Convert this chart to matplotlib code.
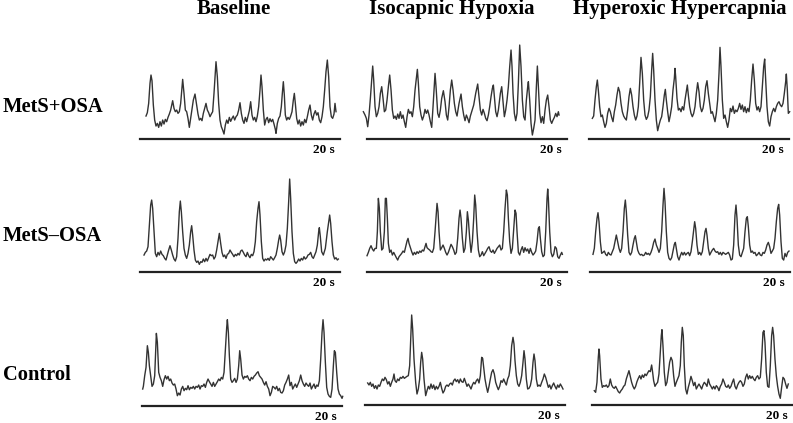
import numpy as np
import matplotlib
matplotlib.use("Agg")
import matplotlib.pyplot as plt

# Registros digitalizados: (muestra, amplitud en u.a.), fs = 30 muestras/s
fs = 30

# MetS+OSA
osa_pos_baseline = [(18,68),(22,78),(26,106),(30,166),(33,191),(36,174),(40,101),(44,56),(48,38),(52,46),(56,34),(60,51),(64,38),(68,56),(72,44),(76,58),(80,51),(84,64),(88,74),(92,86),(98,114),(102,91),(106,81),(110,86),(114,76),(118,81),(122,106),(128,178),(132,136),(136,86),(140,81),(144,61),(148,34),(152,61),(156,86),(160,116),(165,134),(170,101),(174,74),(178,56),(182,61),(186,54),(190,76),(194,91),(198,106),(202,86),(206,78),(210,66),(214,74),(218,81),(222,136),(228,231),(232,186),(236,106),(240,56),(244,36),(248,26),(252,14),(256,41),(260,56),(264,46),(268,64),(272,52),(276,61),(280,68),(284,56),(288,66),(292,71),(296,86),(300,108),(304,76),(308,56),(312,46),(316,64),(320,51),(324,68),(328,84),(332,111),(336,71),(340,56),(344,64),(348,51),(352,68),(356,96),(360,146),(363,191),(366,156),(370,86),(374,41),(378,58),(382,64),(386,48),(390,60),(394,51),(398,58),(402,44),(406,28),(408,16),(412,46),(416,61),(420,68),(424,96),(427,136),(430,171),(433,131),(436,71),(440,56),(444,64),(448,58),(452,68),(456,81),(460,116),(463,136),(466,106),(470,61),(474,44),(478,56),(482,38),(486,51),(490,41),(494,58),(498,48),(502,66),(506,86),(510,101),(514,71),(518,56),(522,74),(526,84),(530,71),(534,78),(538,56),(542,48),(546,66),(550,96),(554,146),(558,201),(562,236),(566,186),(570,96),(574,66),(578,61),(582,74),(585,106),(588,81)]

osa_pos_hypoxia = [(-10,81),(-5,71),(-1,61),(3,36),(7,71),(11,121),(15,176),(18,218),(21,176),(25,96),(29,66),(33,76),(37,96),(41,136),(45,156),(49,121),(53,81),(57,86),(61,116),(65,156),(69,191),(73,146),(77,86),(81,61),(85,68),(89,58),(93,74),(97,61),(101,81),(105,61),(109,71),(113,51),(117,34),(121,66),(125,88),(129,76),(133,81),(137,66),(141,96),(145,146),(149,181),(152,208),(155,166),(159,96),(163,71),(167,56),(171,68),(175,88),(179,76),(183,86),(187,71),(191,51),(195,34),(199,96),(203,166),(205,196),(208,156),(213,76),(217,64),(221,86),(225,121),(230,144),(235,111),(239,71),(243,56),(247,96),(251,146),(255,176),(259,146),(263,106),(267,81),(271,68),(277,106),(283,134),(287,96),(291,71),(295,54),(299,71),(303,61),(307,48),(311,68),(315,81),(321,101),(327,136),(333,164),(337,126),(341,86),(345,71),(349,88),(353,76),(357,61),(361,54),(365,71),(369,96),(373,126),(377,151),(380,161),(383,126),(387,81),(391,66),(395,86),(401,136),(405,156),(409,111),(413,66),(417,86),(421,116),(425,156),(429,216),(433,266),(436,216),(439,136),(443,76),(447,54),(451,76),(455,166),(459,281),(463,216),(467,116),(471,66),(475,56),(479,116),(483,156),(485,171),(489,116),(493,46),(497,11),(501,31),(505,56),(509,156),(512,218),(515,156),(519,76),(523,48),(527,66),(531,46),(535,86),(539,116),(543,131),(547,96),(551,56),(555,46),(559,56),(563,64),(567,76),(571,66),(575,81),(577,71)]

osa_pos_hypercapnia = [(10,61),(14,68),(18,116),(22,156),(25,176),(28,146),(32,96),(36,66),(40,71),(44,51),(48,34),(52,46),(56,76),(60,91),(64,81),(68,64),(72,51),(76,81),(80,101),(84,131),(88,154),(92,141),(96,106),(100,81),(104,68),(108,61),(112,56),(116,86),(120,126),(124,151),(128,131),(132,96),(136,71),(140,56),(144,68),(148,96),(152,166),(156,244),(160,196),(164,116),(168,71),(172,58),(176,66),(180,86),(184,126),(188,206),(191,256),(194,206),(198,116),(202,56),(206,24),(210,41),(214,56),(218,66),(222,96),(226,131),(229,148),(232,116),(236,81),(240,51),(244,71),(248,96),(252,146),(256,181),(258,211),(260,186),(264,121),(268,86),(272,91),(276,81),(280,96),(284,86),(288,116),(292,141),(295,161),(298,131),(302,96),(306,76),(310,66),(314,76),(318,96),(322,136),(326,168),(330,141),(334,96),(338,81),(342,91),(346,116),(350,156),(354,174),(358,136),(362,106),(366,76),(370,81),(374,66),(378,51),(382,76),(386,116),(390,196),(393,274),(396,216),(400,116),(404,61),(408,71),(412,51),(416,34),(420,56),(424,91),(428,81),(432,98),(436,76),(440,86),(444,81),(448,91),(452,106),(456,88),(460,101),(464,81),(468,96),(472,78),(476,91),(480,81),(484,116),(488,176),(492,224),(496,176),(500,106),(504,86),(508,96),(512,81),(516,96),(520,156),(524,216),(527,239),(530,176),(534,96),(538,51),(542,38),(546,66),(550,81),(554,91),(558,81),(562,96),(566,106),(570,111),(574,101),(578,96),(582,106),(586,136),(590,171),(592,194),(595,146),(598,76),(602,81)]

# MetS-OSA
osa_neg_baseline = [(12,50),(16,58),(20,62),(24,75),(28,140),(32,200),(35,215),(38,190),(42,120),(46,55),(50,45),(54,58),(58,50),(62,62),(66,52),(70,48),(74,40),(78,35),(82,50),(86,65),(90,78),(94,65),(98,50),(102,38),(106,32),(110,45),(114,100),(118,180),(121,212),(124,180),(128,120),(132,70),(136,50),(140,40),(144,55),(148,80),(152,120),(155,138),(158,110),(162,65),(166,35),(170,28),(174,32),(178,22),(182,30),(186,28),(190,38),(194,30),(198,40),(202,32),(206,42),(210,52),(214,48),(218,50),(222,38),(226,45),(230,65),(234,90),(238,115),(242,85),(246,58),(250,45),(254,50),(258,40),(262,52),(266,55),(270,65),(274,58),(278,52),(282,45),(286,52),(290,48),(294,55),(298,50),(302,62),(306,65),(310,58),(314,50),(318,45),(322,58),(326,48),(330,42),(334,52),(338,48),(342,60),(346,90),(350,150),(354,190),(357,210),(360,170),(364,90),(368,40),(372,32),(376,38),(380,35),(384,40),(388,34),(392,45),(396,40),(400,35),(404,42),(408,50),(412,70),(416,95),(419,110),(422,95),(426,60),(430,50),(434,60),(438,80),(442,130),(446,210),(449,278),(452,220),(456,120),(460,55),(464,30),(468,25),(472,30),(476,38),(480,32),(484,40),(488,35),(492,45),(496,38),(500,42),(504,50),(508,52),(512,58),(516,45),(520,40),(524,50),(528,60),(532,80),(536,120),(538,132),(541,105),(545,60),(550,50),(556,70),(562,120),(566,150),(569,170),(572,145),(576,90),(580,50),(584,38),(588,42),(592,35),(595,38)]

osa_neg_hypoxia = [(1,48),(5,58),(9,70),(13,78),(17,68),(21,62),(25,70),(29,70),(32,120),(35,220),(38,190),(41,120),(45,65),(49,70),(53,120),(56,220),(59,220),(62,160),(65,85),(69,58),(73,65),(77,50),(81,58),(85,50),(89,42),(93,35),(97,45),(101,50),(105,55),(109,62),(113,58),(117,75),(121,92),(124,100),(127,85),(131,72),(135,60),(139,50),(143,58),(147,52),(151,60),(155,55),(159,62),(163,58),(167,65),(171,62),(175,75),(178,85),(181,72),(185,68),(189,65),(193,60),(197,58),(201,70),(205,120),(209,180),(211,205),(214,180),(217,120),(221,65),(225,72),(229,80),(233,70),(237,58),(241,50),(245,58),(249,70),(253,82),(257,75),(261,65),(265,52),(269,58),(273,100),(277,160),(280,185),(283,160),(287,100),(291,58),(295,70),(299,120),(302,180),(305,155),(309,100),(313,58),(317,90),(321,160),(324,230),(327,200),(331,120),(335,65),(339,45),(343,50),(347,60),(351,48),(355,55),(359,62),(363,70),(367,75),(371,62),(375,58),(379,65),(383,55),(387,62),(391,70),(395,75),(399,80),(403,65),(407,70),(411,120),(415,190),(419,245),(422,230),(425,160),(429,90),(433,55),(437,70),(441,130),(445,185),(448,175),(451,120),(455,58),(459,50),(463,65),(467,75),(471,58),(475,72),(479,62),(483,68),(487,55),(491,70),(495,58),(499,50),(503,55),(507,62),(511,90),(515,130),(518,135),(521,100),(525,60),(529,45),(533,50),(537,120),(541,220),(543,248),(545,220),(549,120),(553,58),(557,45),(561,52),(565,75),(569,70),(573,45),(577,40),(581,50),(585,58),(587,52)]

osa_neg_hypercapnia = [(9,52),(13,70),(17,120),(21,160),(24,177),(27,150),(31,90),(35,55),(39,58),(43,62),(47,52),(51,48),(55,58),(59,52),(63,50),(67,60),(71,70),(75,90),(79,110),(83,90),(87,70),(91,58),(95,70),(99,120),(103,190),(106,215),(109,180),(113,110),(117,58),(121,50),(125,58),(129,80),(133,100),(136,108),(139,90),(143,65),(147,55),(151,50),(155,52),(159,48),(163,50),(167,58),(171,52),(175,55),(179,50),(183,58),(187,70),(191,88),(195,98),(199,80),(203,70),(207,58),(211,70),(215,120),(219,200),(222,250),(225,210),(229,120),(233,58),(237,40),(241,35),(245,42),(249,62),(253,82),(256,88),(259,70),(263,45),(267,35),(271,48),(275,58),(279,50),(283,58),(287,50),(291,55),(295,58),(299,48),(303,60),(307,90),(311,125),(314,150),(317,130),(321,80),(325,52),(329,58),(333,50),(337,60),(341,90),(345,120),(348,130),(351,110),(355,70),(359,50),(363,58),(367,65),(371,70),(375,62),(379,58),(383,60),(387,52),(391,58),(395,50),(399,58),(403,55),(407,52),(411,55),(415,58),(419,50),(423,35),(427,38),(431,80),(435,170),(438,200),(441,160),(445,80),(449,50),(453,45),(457,58),(461,70),(465,120),(469,160),(472,165),(475,135),(479,80),(483,58),(487,62),(491,55),(495,58),(499,48),(503,52),(507,58),(511,50),(515,48),(519,58),(523,55),(527,65),(531,80),(535,88),(539,75),(543,55),(547,62),(551,70),(555,100),(559,150),(563,190),(566,202),(569,170),(573,90),(577,40),(581,35),(585,55),(589,45),(593,58),(597,62)]

# Control
ctrl_baseline = [(3,50),(5,58),(9,90),(13,115),(17,180),(20,160),(23,120),(27,90),(31,58),(35,65),(39,90),(42,170),(44,217),(47,190),(51,100),(55,85),(59,75),(63,58),(67,78),(71,90),(75,80),(79,88),(83,75),(87,80),(91,68),(95,62),(99,65),(103,50),(107,30),(111,38),(115,32),(119,50),(123,58),(127,45),(131,52),(135,48),(139,60),(143,48),(147,55),(151,52),(155,58),(159,50),(163,58),(167,55),(171,62),(175,50),(179,60),(183,58),(187,65),(191,55),(195,70),(199,80),(203,72),(207,65),(211,58),(215,70),(219,58),(223,65),(227,72),(231,80),(235,75),(239,85),(243,80),(247,100),(251,170),(255,235),(257,258),(260,220),(263,150),(267,80),(271,70),(275,75),(279,82),(283,70),(287,80),(291,120),(294,165),(297,140),(301,92),(305,80),(309,88),(313,85),(317,90),(321,80),(325,75),(329,85),(333,80),(337,88),(341,92),(345,98),(349,102),(353,90),(357,85),(361,80),(365,70),(369,62),(373,72),(377,58),(381,50),(385,30),(389,40),(393,58),(397,55),(401,50),(405,58),(409,45),(413,52),(417,40),(421,38),(425,45),(429,62),(433,70),(437,80),(441,92),(445,60),(449,70),(453,50),(457,58),(461,65),(465,55),(469,65),(473,75),(477,92),(481,75),(485,65),(489,58),(493,68),(497,62),(501,58),(505,68),(509,50),(513,58),(517,65),(521,52),(525,62),(529,58),(533,75),(537,140),(541,220),(544,258),(547,220),(551,130),(555,55),(559,35),(563,28),(567,25),(571,50),(575,120),(578,165),(581,160),(585,100),(589,50),(593,35),(597,30),(601,22),(603,28)]

ctrl_hypoxia = [(8,66),(12,60),(16,68),(20,56),(24,63),(28,50),(32,58),(36,48),(40,60),(44,56),(48,68),(52,78),(56,73),(60,83),(64,76),(68,63),(72,70),(76,56),(80,68),(84,78),(87,93),(90,73),(94,68),(98,78),(102,73),(106,83),(110,80),(114,86),(118,80),(122,83),(126,86),(130,88),(134,118),(137,198),(140,270),(143,228),(147,138),(152,68),(156,33),(160,48),(164,78),(167,128),(170,158),(173,138),(177,78),(182,28),(186,43),(190,56),(194,48),(198,63),(202,50),(206,60),(210,46),(214,56),(218,48),(222,56),(226,68),(230,50),(234,36),(238,43),(242,56),(246,60),(250,56),(254,63),(258,66),(262,60),(266,73),(270,78),(274,70),(278,76),(282,66),(286,78),(290,70),(294,68),(298,80),(302,68),(306,56),(310,63),(314,56),(318,48),(322,60),(326,68),(330,63),(334,73),(338,78),(342,66),(346,88),(350,143),(353,140),(356,113),(360,78),(364,56),(368,38),(372,56),(376,78),(380,98),(384,106),(388,93),(392,68),(396,56),(400,46),(404,56),(408,73),(412,68),(416,78),(420,68),(424,60),(428,78),(432,88),(436,118),(440,178),(444,203),(447,183),(450,133),(454,88),(458,63),(462,56),(466,68),(470,88),(474,128),(477,163),(480,138),(484,78),(488,48),(492,50),(496,58),(500,78),(504,128),(507,153),(510,133),(514,78),(518,56),(522,60),(526,56),(530,68),(534,78),(538,93),(542,83),(546,68),(550,53),(554,60),(558,48),(562,58),(566,66),(570,56),(574,48),(578,60),(582,53),(586,63),(590,56),(594,48)]

ctrl_hypercapnia = [(6,43),(10,38),(14,68),(18,143),(20,168),(22,148),(26,78),(30,53),(34,58),(38,56),(42,60),(46,53),(50,58),(54,78),(58,60),(62,53),(66,50),(70,56),(74,48),(78,40),(82,36),(86,43),(90,48),(94,56),(98,60),(102,78),(106,90),(110,103),(114,86),(118,68),(122,56),(126,48),(130,56),(134,70),(138,80),(142,88),(146,78),(150,90),(154,83),(158,93),(162,88),(166,96),(170,103),(174,100),(178,120),(181,98),(184,73),(188,56),(192,63),(196,68),(200,93),(204,158),(207,208),(209,226),(212,178),(216,98),(220,58),(224,68),(228,98),(232,128),(236,143),(240,133),(244,88),(248,56),(252,68),(256,78),(260,88),(264,118),(267,188),(270,233),(273,208),(276,118),(280,48),(284,33),(288,53),(292,68),(296,86),(300,73),(304,58),(308,68),(312,48),(316,56),(320,63),(324,56),(328,48),(332,60),(336,68),(340,63),(344,56),(348,78),(352,63),(356,56),(360,48),(364,56),(368,48),(372,58),(376,53),(380,43),(384,56),(388,63),(392,78),(396,68),(400,56),(404,53),(408,60),(412,50),(416,56),(420,68),(424,78),(428,56),(432,48),(436,60),(440,68),(444,73),(448,68),(452,56),(456,63),(460,83),(464,93),(468,78),(472,88),(476,80),(480,86),(484,78),(488,73),(492,83),(496,88),(500,78),(504,83),(508,138),(512,218),(515,223),(518,188),(522,98),(526,56),(530,53),(534,118),(538,208),(541,233),(544,208),(548,138),(552,88),(556,56),(560,33),(564,20),(568,53),(572,83),(576,78),(580,63),(584,50),(588,63)]

condiciones = ["Baseline", "Isocapnic Hypoxia", "Hyperoxic Hypercapnia"]
grupos = ["MetS+OSA", "MetS\u2013OSA", "Control"]
registros = [
    [osa_pos_baseline, osa_pos_hypoxia, osa_pos_hypercapnia],
    [osa_neg_baseline, osa_neg_hypoxia, osa_neg_hypercapnia],
    [ctrl_baseline, ctrl_hypoxia, ctrl_hypercapnia],
]
ventana = 20  # segundos de la barra de escala

# Posicion de cada panel en pixeles (izquierda, linea base)
W, H = 793, 423
paneles = [
    [(140, 138.7), (366.7, 138.7), (589, 138.7)],
    [(140, 271.7), (366.7, 271.7), (590, 271.7)],
    [(141.7, 405.7), (365, 405), (592.3, 405)],
]
fuente = "Liberation Serif"

fig = plt.figure(figsize=(W / 100, H / 100), dpi=100)

for i in range(3):
    for j in range(3):
        x0, yb = paneles[i][j]
        ax = fig.add_axes([x0 / W, 1 - yb / H, 200 / W, 100 / H])
        datos = np.array(registros[i][j])
        t = datos[:, 0] / fs
        ax.plot(t, datos[:, 1], color="#333333", lw=1.0, clip_on=False)
        ax.set_xlim(0, ventana)
        ax.set_ylim(0, 300)
        for lado in ["top", "right", "left"]:
            ax.spines[lado].set_visible(False)
        ax.spines["bottom"].set_linewidth(1.6)
        ax.spines["bottom"].set_color("#222222")
        ax.set_xticks([])
        ax.set_yticks([])
        ax.patch.set_alpha(0)
        ax.annotate("20 s", xy=(1, 0), xycoords="axes fraction",
                    xytext=(-3.5, -10.2), textcoords="offset points",
                    ha="right", va="baseline", fontsize=9.5,
                    fontweight="bold", family=fuente)

# Titulos de columna
for nombre, xc in zip(condiciones, [234, 452, 680]):
    fig.text(xc / W, 1 - 14 / H, nombre, ha="center", va="baseline",
             fontsize=15, fontweight="bold", family=fuente)

# Etiquetas de fila
for nombre, yc in zip(grupos, [106.5, 236, 375]):
    fig.text(3 / W, 1 - yc / H, nombre, ha="left", va="center",
             fontsize=14.8, fontweight="bold", family=fuente)

fig.savefig("out.png", dpi=100)
